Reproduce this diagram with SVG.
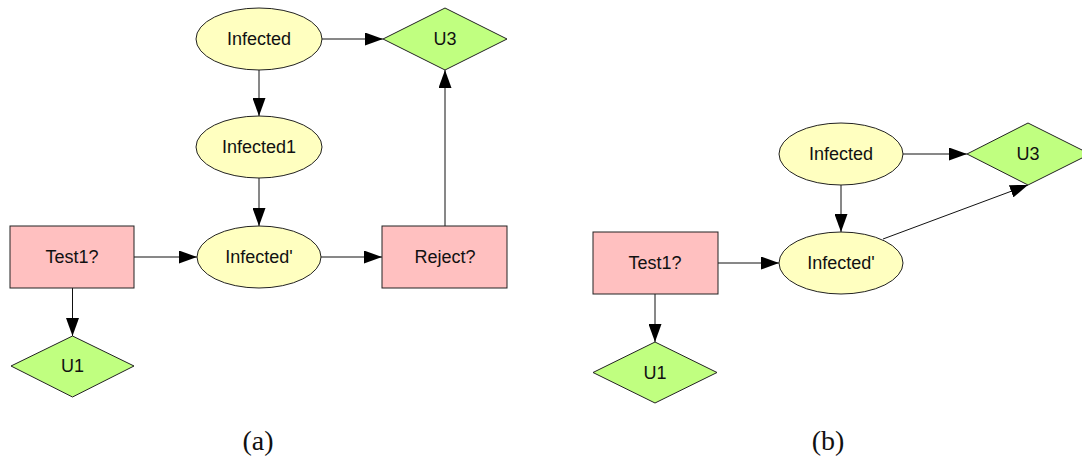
<svg xmlns="http://www.w3.org/2000/svg" width="1082" height="458" viewBox="0 0 1082 458">
  <style>
    .chance { fill: #ffffc0; stroke: #222; stroke-width: 1; }
    .decision { fill: #ffc0c0; stroke: #222; stroke-width: 1; }
    .utility { fill: #c0ff80; stroke: #222; stroke-width: 1; }
    .label { font-family: "Liberation Sans", Arial, sans-serif; font-size: 18px; fill: #111; text-anchor: middle; dominant-baseline: central; }
    .caption { font-family: "Liberation Serif", "Times New Roman", serif; font-size: 28px; fill: #111; text-anchor: middle; }
    .edge { fill: none; stroke: #111; stroke-width: 1; marker-end: url(#arrow); }
  </style>
  <defs>
    <marker id="arrow" markerUnits="userSpaceOnUse" viewBox="0 0 18 13" markerWidth="18" markerHeight="13" refX="18" refY="6.5" orient="auto">
      <path d="M0,0 L18,6.5 L0,13 Z" fill="#000"/>
    </marker>
  </defs>
  <rect width="1082" height="458" fill="#fff"/>

  <!-- Panel (a) -->
  <g id="a-connectors">
    <path class="edge" d="M322,39 H383"/>
    <path class="edge" d="M259,70 V116"/>
    <path class="edge" d="M259,178 V226"/>
    <path class="edge" d="M134,257 H197"/>
    <path class="edge" d="M321,257 H382"/>
    <path class="edge" d="M445,226 V70"/>
    <path class="edge" d="M72.5,288 V336"/>
  </g>
  <g id="a-infected">
    <ellipse class="chance" cx="259" cy="39" rx="63" ry="31"/>
    <text class="label" x="259" y="39">Infected</text>
  </g>
  <g id="a-infected1">
    <ellipse class="chance" cx="259" cy="147" rx="63" ry="31"/>
    <text class="label" x="259" y="147">Infected1</text>
  </g>
  <g id="a-infected-prime">
    <ellipse class="chance" cx="259" cy="257" rx="62" ry="31"/>
    <text class="label" x="259" y="257">Infected'</text>
  </g>
  <g id="a-u3">
    <polygon class="utility" points="383,39 445,8 507,39 445,70"/>
    <text class="label" x="445" y="39">U3</text>
  </g>
  <g id="a-test1">
    <rect class="decision" x="10" y="226" width="124" height="62"/>
    <text class="label" x="72" y="257">Test1?</text>
  </g>
  <g id="a-reject">
    <rect class="decision" x="382" y="226" width="125" height="62"/>
    <text class="label" x="445" y="257">Reject?</text>
  </g>
  <g id="a-u1">
    <polygon class="utility" points="11,366 72.5,336 134,366 72.5,397"/>
    <text class="label" x="72.5" y="366">U1</text>
  </g>

  <!-- Panel (b) -->
  <g id="b-connectors">
    <path class="edge" d="M903,154 H967"/>
    <path class="edge" d="M841,185 V232"/>
    <path class="edge" d="M718,263 H779"/>
    <path class="edge" d="M655,294 V342"/>
    <path class="edge" d="M883,239 L1028,185"/>
  </g>
  <g id="b-infected">
    <ellipse class="chance" cx="841" cy="154" rx="62" ry="31"/>
    <text class="label" x="841" y="154">Infected</text>
  </g>
  <g id="b-infected-prime">
    <ellipse class="chance" cx="841" cy="263" rx="62" ry="31"/>
    <text class="label" x="841" y="263">Infected'</text>
  </g>
  <g id="b-u3">
    <polygon class="utility" points="967,154 1028,123 1090,154 1028,185"/>
    <text class="label" x="1028" y="154">U3</text>
  </g>
  <g id="b-test1">
    <rect class="decision" x="593" y="232" width="125" height="62"/>
    <text class="label" x="655" y="263">Test1?</text>
  </g>
  <g id="b-u1">
    <polygon class="utility" points="593,372.5 655,342 717,372.5 655,403"/>
    <text class="label" x="655" y="372.5">U1</text>
  </g>

  <!-- Captions -->
  <text class="caption" x="258" y="450">(a)</text>
  <text class="caption" x="828" y="450">(b)</text>
</svg>
